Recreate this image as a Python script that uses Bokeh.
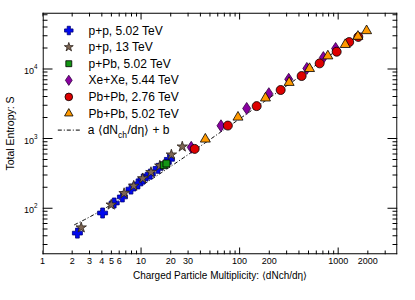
import numpy as np
from bokeh.plotting import figure
from bokeh.models import Range1d, FixedTicker, PrintfTickFormatter
from bokeh.embed import file_html
from bokeh.resources import INLINE
from bokeh.core.properties import value

# ---------------- data ----------------
pp502_x = [2.26, 4.07, 5.34, 6.47, 7.91, 9.31, 10.5, 12.4, 14.9, 19.4]
pp502_y = [43.8, 85.2, 118.6, 145, 188, 223, 262, 308, 373, 503]

pp13_x = [2.47, 4.98, 6.73, 8.42, 10.4, 12.6, 15.5, 20.3, 26.2]
pp13_y = [52.6, 112, 163.5, 209, 267, 328, 406, 586, 764]

ppb_x = [17.0, 18.1]
ppb_y = [414, 438]

xexe_x = [32.3, 64.7, 118, 198, 315, 481, 708, 942]
xexe_y = [748, 1526, 2704, 4406, 7095, 10160, 14550, 19640]

pb276_x = [35, 76, 149, 261, 426, 649, 966, 1294, 1601]
pb276_y = [710, 1535, 2921, 4977, 7907, 12010, 17660, 24300, 28800]

pb502_x = [44.9, 96.3, 183, 318, 512, 786, 1180, 1587, 1943]
pb502_y = [979, 2023, 3810, 6376, 10090, 15330, 22340, 29300, 35300]

fit_a = 19.0
fit_b = 17.6
fit_xmin, fit_xmax = 2.1, 2000

x_major = [1, 2, 3, 4, 5, 6, 10, 20, 30, 100, 200, 1000, 2000]
x_minor = [7, 8, 9, 40, 50, 60, 70, 80, 90, 300, 400, 500, 600, 700, 800, 900, 3000]
x_decades = [10, 100, 1000]
y_major = [100, 1000, 10000]
y_minor = ([30, 40, 50, 60, 70, 80, 90] + [200, 300, 400, 500, 600, 700, 800, 900]
           + [2000, 3000, 4000, 5000, 6000, 7000, 8000, 9000]
           + [20000, 30000, 40000, 50000, 60000])

legend_labels = ["p+p, 5.02 TeV", "p+p, 13 TeV", "p+Pb, 5.02 TeV",
                 "Xe+Xe, 5.44 TeV", "Pb+Pb, 2.76 TeV", "Pb+Pb, 5.02 TeV"]

# ---------------- figure ----------------
XMIN, XMAX = 1, 4000
YMIN, YMAX = 21.6, 64600
BL, BR, BT, BB = 42, 2, 12, 30
W, H = 399, 284
FW, FH = W - BL - BR, H - BT - BB
FONT = "Liberation Sans"
p = figure(x_axis_type="log", y_axis_type="log",
           x_range=Range1d(XMIN, XMAX), y_range=Range1d(YMIN, YMAX),
           width=W, height=H,
           min_border_left=BL, min_border_right=BR, min_border_top=BT, min_border_bottom=BB,
           output_backend="svg", toolbar_location=None)
p.xgrid.visible = False
p.ygrid.visible = False
p.outline_line_color = None
p.background_fill_color = "white"
p.border_fill_color = "white"

LX0, LX1 = np.log10(XMIN), np.log10(XMAX)
LY0, LY1 = np.log10(YMIN), np.log10(YMAX)

def xd(px):
    """data x for a pixel offset from the frame's left edge"""
    return 10 ** (LX0 + np.asarray(px, float) / FW * (LX1 - LX0))

def yd(py):
    """data y for a pixel offset from the frame's top edge"""
    return 10 ** (LY1 - np.asarray(py, float) / FH * (LY1 - LY0))

def xpx(v):
    return (np.log10(np.asarray(v, float)) - LX0) / (LX1 - LX0) * FW

def ypx(v):
    return (LY1 - np.log10(np.asarray(v, float))) / (LY1 - LY0) * FH

ax = p.xaxis[0]
ax.ticker = FixedTicker(ticks=x_major, minor_ticks=x_minor)
ax.formatter = PrintfTickFormatter(format="%d")
ax.major_tick_in = ax.major_tick_out = 0
ax.minor_tick_in = ax.minor_tick_out = 0
ax.axis_line_color = None
ax.major_label_text_font = FONT
ax.major_label_text_font_size = "9px"
ax.major_label_text_color = "black"
ax.major_label_standoff = 3
ax.axis_label = "Charged Particle Multiplicity: \u27e8dNch/d\u03b7\u27e9"
ax.axis_label_text_font = FONT
ax.axis_label_text_font_size = "10px"
ax.axis_label_text_font_style = "normal"
ax.axis_label_text_color = "black"
ax.axis_label_standoff = 3

ay = p.yaxis[0]
ay.ticker = FixedTicker(ticks=y_major, minor_ticks=y_minor)
ay.major_tick_in = ay.major_tick_out = 0
ay.minor_tick_in = ay.minor_tick_out = 0
ay.axis_line_color = None
ay.major_label_text_font = FONT
ay.major_label_text_font_size = "9px"
ay.major_label_text_color = "black"
ay.major_label_standoff = 5
ay.axis_label = "Total Entropy: S"
ay.axis_label_text_font = FONT
ay.axis_label_text_font_size = "10.5px"
ay.axis_label_text_font_style = "normal"
ay.axis_label_text_color = "black"
ay.axis_label_standoff = 5

# ---------------- frame and tick marks drawn as thin filled bars ----------------
K = "black"
BW = 1.2
p.quad(left=[XMIN, float(xd(FW - BW)), XMIN, XMIN],
       right=[float(xd(BW)), XMAX, XMAX, XMAX],
       bottom=[YMIN, YMIN, YMIN, float(yd(BW))],
       top=[YMAX, YMAX, float(yd(FH - BW)), YMAX],
       fill_color=K, line_color=None)

xt = x_major + x_minor
xl = np.array([7 if t in x_decades else 4 for t in xt], float)
xp = xpx(xt)
p.quad(left=list(xd(xp - 0.5)), right=list(xd(xp + 0.5)),
       bottom=[YMIN] * len(xt), top=list(yd(FH - xl)), fill_color=K, line_color=None)
p.quad(left=list(xd(xp - 0.5)), right=list(xd(xp + 0.5)),
       bottom=list(yd(xl)), top=[YMAX] * len(xt), fill_color=K, line_color=None)

yt = y_major + y_minor
yl = np.array([10 if t in y_major else 5 for t in yt], float)
yp = ypx(yt)
p.quad(left=[XMIN] * len(yt), right=list(xd(yl)),
       bottom=list(yd(yp + 0.5)), top=list(yd(yp - 0.5)), fill_color=K, line_color=None)
p.quad(left=list(xd(FW - yl)), right=[XMAX] * len(yt),
       bottom=list(yd(yp + 0.5)), top=list(yd(yp - 0.5)), fill_color=K, line_color=None)

# ---------------- fit line ----------------
fx = np.logspace(np.log10(fit_xmin), np.log10(fit_xmax), 200)
p.line(fx, fit_a * fx + fit_b, line_color="black", line_width=1, line_dash="4 2 1 2")

# ---------------- data ----------------
styles = [
    dict(marker="plus", size=10, fill_color="#0008ee", line_color="#00007a"),
    dict(marker="star", size=11, fill_color="#7d6654", line_color="#2a2018"),
    dict(marker="square", size=7, fill_color="#139613", line_color="black"),
    dict(marker="diamond", size=12, fill_color="#8a00a0", line_color="#300040"),
    dict(marker="circle", size=9, fill_color="#dd0000", line_color="black"),
    dict(marker="triangle", size=10, fill_color="#ff9900", line_color="black"),
]
series = [(pp502_x, pp502_y), (pp13_x, pp13_y), (ppb_x, ppb_y),
          (xexe_x, xexe_y), (pb276_x, pb276_y), (pb502_x, pb502_y)]
for (sx, sy), st in zip(series, styles):
    p.scatter(sx, sy, line_width=0.8, **st)

# ---------------- legend (positions in pixels from the frame's top-left) ----------------
leg_top, leg_step = 18, 16.6
mark_px, text_px = 26.3, 46
for i, (lab, st) in enumerate(zip(legend_labels, styles)):
    yy = float(yd(leg_top + i * leg_step))
    st2 = dict(st)
    st2["size"] = st["size"] * 0.85
    p.scatter([float(xd(mark_px))], [yy], line_width=0.8, **st2)
    p.text([float(xd(text_px))], [yy], text=[lab],
           text_font=value(FONT), text_font_size="12px", text_baseline="middle",
           text_align="left", text_color="black")
row7 = leg_top + 6 * leg_step
p.line([float(v) for v in xd([15.3, 38.3])], [float(yd(row7))] * 2,
       line_color="black", line_dash="4 2 1 2")
sub_px = text_px + 29.5
p.text([float(xd(sub_px))], [float(yd(row7))], text=["a \u27e8dN"],
       text_font=value(FONT), text_font_size="12px", text_baseline="middle", text_align="right")
p.text([float(xd(sub_px))], [float(yd(row7 + 4.5))], text=["ch"],
       text_font=value(FONT), text_font_size="8.5px", text_baseline="middle", text_align="left")
p.text([float(xd(sub_px + 9.5))], [float(yd(row7))], text=["/d\u03b7\u27e9 + b"],
       text_font=value(FONT), text_font_size="12px", text_baseline="middle", text_align="left")

open("out.html", "w").write(file_html(p, INLINE))
